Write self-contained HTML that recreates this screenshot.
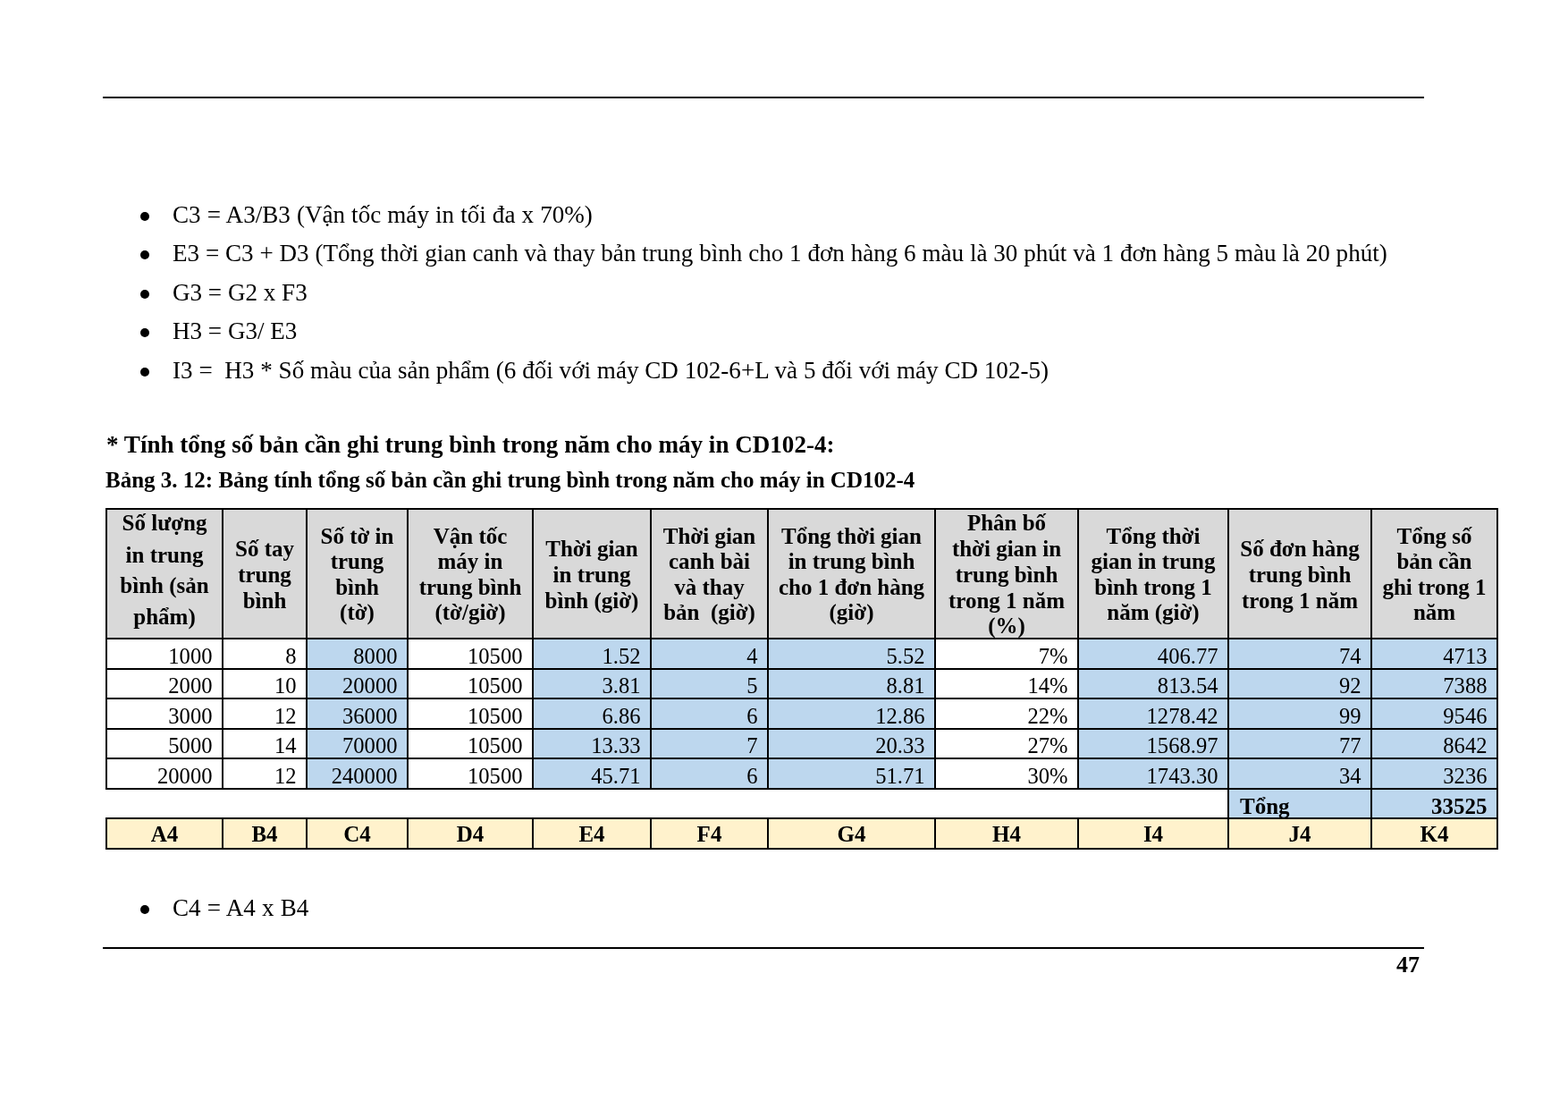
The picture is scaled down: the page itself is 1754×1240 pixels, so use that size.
<!DOCTYPE html>
<html lang="vi"><head><meta charset="utf-8"><title>Trang 47</title>
<style>
html,body{margin:0;padding:0;background:#fff}
body{width:1754px;height:1240px;position:relative;overflow:hidden;font-family:"Liberation Serif", "DejaVu Serif", serif;color:#000}
.t{position:absolute;white-space:nowrap;margin:0;padding:0}
.r{position:absolute}
.dot{position:absolute;width:10px;height:10px;border-radius:50%;background:#000}
</style></head><body>
<div class="r" style="left:115px;top:108px;width:1478px;height:2px;background:#000"></div>
<div class="r" style="left:115px;top:1059px;width:1478px;height:2px;background:#000"></div>
<div class="dot" style="left:157px;top:237px"></div>
<div class="t" style="top:223.86px;font-size:27.08px;line-height:32px;left:193px;word-spacing:0.33px;">C3 = A3/B3 (Vận tốc máy in tối đa x 70%)</div>
<div class="dot" style="left:157px;top:280px"></div>
<div class="t" style="top:266.86px;font-size:27.08px;line-height:32px;left:193px;word-spacing:0.05px;">E3 = C3 + D3 (Tổng thời gian canh và thay bản trung bình cho 1 đơn hàng 6 màu là 30 phút và 1 đơn hàng 5 màu là 20 phút)</div>
<div class="dot" style="left:157px;top:324px"></div>
<div class="t" style="top:310.86px;font-size:27.08px;line-height:32px;left:193px;">G3 = G2 x F3</div>
<div class="dot" style="left:157px;top:367px"></div>
<div class="t" style="top:353.86px;font-size:27.08px;line-height:32px;left:193px;">H3 = G3/ E3</div>
<div class="dot" style="left:157px;top:411px"></div>
<div class="t" style="top:397.86px;font-size:27.08px;line-height:32px;left:193px;word-spacing:0.06px;">I3 =&nbsp; H3 * Số màu của sản phẩm (6 đối với máy CD 102-6+L và 5 đối với máy CD 102-5)</div>
<div class="dot" style="left:157px;top:1012px"></div>
<div class="t" style="top:998.86px;font-size:27.08px;line-height:32px;left:193px;word-spacing:0.4px;">C4 = A4 x B4</div>
<div class="t" style="top:480.86px;font-size:27.08px;line-height:32px;font-weight:bold;left:119px;">* Tính tổng số bản cần ghi trung bình trong năm cho máy in CD102-4:</div>
<div class="t" style="top:521.56px;font-size:25px;line-height:30px;font-weight:bold;left:118px;">Bảng 3. 12: Bảng tính tổng số bản cần ghi trung bình trong năm cho máy in CD102-4</div>
<div class="t" style="top:1062.72px;font-size:26px;line-height:31px;font-weight:bold;left:1488px;width:100px;text-align:right;">47</div>
<div class="r" style="left:118px;top:568px;width:1558px;height:145px;background:#d9d9d9"></div>
<div class="r" style="left:342px;top:713px;width:113px;height:34px;background:#bdd7ee"></div>
<div class="r" style="left:595px;top:713px;width:132px;height:34px;background:#bdd7ee"></div>
<div class="r" style="left:727px;top:713px;width:131px;height:34px;background:#bdd7ee"></div>
<div class="r" style="left:858px;top:713px;width:187px;height:34px;background:#bdd7ee"></div>
<div class="r" style="left:1205px;top:713px;width:168px;height:34px;background:#bdd7ee"></div>
<div class="r" style="left:1373px;top:713px;width:160px;height:34px;background:#bdd7ee"></div>
<div class="r" style="left:1533px;top:713px;width:141px;height:34px;background:#bdd7ee"></div>
<div class="r" style="left:342px;top:747px;width:113px;height:33px;background:#bdd7ee"></div>
<div class="r" style="left:595px;top:747px;width:132px;height:33px;background:#bdd7ee"></div>
<div class="r" style="left:727px;top:747px;width:131px;height:33px;background:#bdd7ee"></div>
<div class="r" style="left:858px;top:747px;width:187px;height:33px;background:#bdd7ee"></div>
<div class="r" style="left:1205px;top:747px;width:168px;height:33px;background:#bdd7ee"></div>
<div class="r" style="left:1373px;top:747px;width:160px;height:33px;background:#bdd7ee"></div>
<div class="r" style="left:1533px;top:747px;width:141px;height:33px;background:#bdd7ee"></div>
<div class="r" style="left:342px;top:780px;width:113px;height:34px;background:#bdd7ee"></div>
<div class="r" style="left:595px;top:780px;width:132px;height:34px;background:#bdd7ee"></div>
<div class="r" style="left:727px;top:780px;width:131px;height:34px;background:#bdd7ee"></div>
<div class="r" style="left:858px;top:780px;width:187px;height:34px;background:#bdd7ee"></div>
<div class="r" style="left:1205px;top:780px;width:168px;height:34px;background:#bdd7ee"></div>
<div class="r" style="left:1373px;top:780px;width:160px;height:34px;background:#bdd7ee"></div>
<div class="r" style="left:1533px;top:780px;width:141px;height:34px;background:#bdd7ee"></div>
<div class="r" style="left:342px;top:814px;width:113px;height:33px;background:#bdd7ee"></div>
<div class="r" style="left:595px;top:814px;width:132px;height:33px;background:#bdd7ee"></div>
<div class="r" style="left:727px;top:814px;width:131px;height:33px;background:#bdd7ee"></div>
<div class="r" style="left:858px;top:814px;width:187px;height:33px;background:#bdd7ee"></div>
<div class="r" style="left:1205px;top:814px;width:168px;height:33px;background:#bdd7ee"></div>
<div class="r" style="left:1373px;top:814px;width:160px;height:33px;background:#bdd7ee"></div>
<div class="r" style="left:1533px;top:814px;width:141px;height:33px;background:#bdd7ee"></div>
<div class="r" style="left:342px;top:847px;width:113px;height:34px;background:#bdd7ee"></div>
<div class="r" style="left:595px;top:847px;width:132px;height:34px;background:#bdd7ee"></div>
<div class="r" style="left:727px;top:847px;width:131px;height:34px;background:#bdd7ee"></div>
<div class="r" style="left:858px;top:847px;width:187px;height:34px;background:#bdd7ee"></div>
<div class="r" style="left:1205px;top:847px;width:168px;height:34px;background:#bdd7ee"></div>
<div class="r" style="left:1373px;top:847px;width:160px;height:34px;background:#bdd7ee"></div>
<div class="r" style="left:1533px;top:847px;width:141px;height:34px;background:#bdd7ee"></div>
<div class="r" style="left:1373px;top:881px;width:301px;height:33px;background:#bdd7ee"></div>
<div class="r" style="left:118px;top:914px;width:1558px;height:34px;background:#fff2cc"></div>
<div class="r" style="left:118px;top:568px;width:1558px;height:2px;background:#000"></div>
<div class="r" style="left:118px;top:713px;width:1558px;height:2px;background:#000"></div>
<div class="r" style="left:118px;top:747px;width:1558px;height:2px;background:#000"></div>
<div class="r" style="left:118px;top:780px;width:1558px;height:2px;background:#000"></div>
<div class="r" style="left:118px;top:814px;width:1558px;height:2px;background:#000"></div>
<div class="r" style="left:118px;top:847px;width:1558px;height:2px;background:#000"></div>
<div class="r" style="left:118px;top:881px;width:1558px;height:2px;background:#000"></div>
<div class="r" style="left:118px;top:914px;width:1558px;height:2px;background:#000"></div>
<div class="r" style="left:118px;top:948px;width:1558px;height:2px;background:#000"></div>
<div class="r" style="left:118px;top:568px;width:2px;height:315px;background:#000"></div>
<div class="r" style="left:118px;top:914px;width:2px;height:36px;background:#000"></div>
<div class="r" style="left:248px;top:568px;width:2px;height:315px;background:#000"></div>
<div class="r" style="left:248px;top:914px;width:2px;height:36px;background:#000"></div>
<div class="r" style="left:342px;top:568px;width:2px;height:315px;background:#000"></div>
<div class="r" style="left:342px;top:914px;width:2px;height:36px;background:#000"></div>
<div class="r" style="left:455px;top:568px;width:2px;height:315px;background:#000"></div>
<div class="r" style="left:455px;top:914px;width:2px;height:36px;background:#000"></div>
<div class="r" style="left:595px;top:568px;width:2px;height:315px;background:#000"></div>
<div class="r" style="left:595px;top:914px;width:2px;height:36px;background:#000"></div>
<div class="r" style="left:727px;top:568px;width:2px;height:315px;background:#000"></div>
<div class="r" style="left:727px;top:914px;width:2px;height:36px;background:#000"></div>
<div class="r" style="left:858px;top:568px;width:2px;height:315px;background:#000"></div>
<div class="r" style="left:858px;top:914px;width:2px;height:36px;background:#000"></div>
<div class="r" style="left:1045px;top:568px;width:2px;height:315px;background:#000"></div>
<div class="r" style="left:1045px;top:914px;width:2px;height:36px;background:#000"></div>
<div class="r" style="left:1205px;top:568px;width:2px;height:315px;background:#000"></div>
<div class="r" style="left:1205px;top:914px;width:2px;height:36px;background:#000"></div>
<div class="r" style="left:1373px;top:568px;width:2px;height:315px;background:#000"></div>
<div class="r" style="left:1373px;top:914px;width:2px;height:36px;background:#000"></div>
<div class="r" style="left:1373px;top:881px;width:2px;height:35px;background:#000"></div>
<div class="r" style="left:1533px;top:568px;width:2px;height:315px;background:#000"></div>
<div class="r" style="left:1533px;top:914px;width:2px;height:36px;background:#000"></div>
<div class="r" style="left:1533px;top:881px;width:2px;height:35px;background:#000"></div>
<div class="r" style="left:1674px;top:568px;width:2px;height:315px;background:#000"></div>
<div class="r" style="left:1674px;top:914px;width:2px;height:36px;background:#000"></div>
<div class="r" style="left:1674px;top:881px;width:2px;height:35px;background:#000"></div>
<div class="t" style="top:569.56px;font-size:25px;line-height:30px;font-weight:bold;left:99.0px;width:170px;text-align:center;">Số lượng</div>
<div class="t" style="top:605.56px;font-size:25px;line-height:30px;font-weight:bold;left:99.0px;width:170px;text-align:center;">in trung</div>
<div class="t" style="top:639.56px;font-size:25px;line-height:30px;font-weight:bold;left:99.0px;width:170px;text-align:center;">bình (sản</div>
<div class="t" style="top:674.56px;font-size:25px;line-height:30px;font-weight:bold;left:99.0px;width:170px;text-align:center;">phẩm)</div>
<div class="t" style="top:598.56px;font-size:25px;line-height:30px;font-weight:bold;left:229.0px;width:134px;text-align:center;">Số tay</div>
<div class="t" style="top:627.56px;font-size:25px;line-height:30px;font-weight:bold;left:229.0px;width:134px;text-align:center;">trung</div>
<div class="t" style="top:656.56px;font-size:25px;line-height:30px;font-weight:bold;left:229.0px;width:134px;text-align:center;">bình</div>
<div class="t" style="top:584.56px;font-size:25px;line-height:30px;font-weight:bold;left:323.0px;width:153px;text-align:center;">Số tờ in</div>
<div class="t" style="top:612.56px;font-size:25px;line-height:30px;font-weight:bold;left:323.0px;width:153px;text-align:center;">trung</div>
<div class="t" style="top:641.56px;font-size:25px;line-height:30px;font-weight:bold;left:323.0px;width:153px;text-align:center;">bình</div>
<div class="t" style="top:669.56px;font-size:25px;line-height:30px;font-weight:bold;left:323.0px;width:153px;text-align:center;">(tờ)</div>
<div class="t" style="top:584.56px;font-size:25px;line-height:30px;font-weight:bold;left:436.0px;width:180px;text-align:center;">Vận tốc</div>
<div class="t" style="top:612.56px;font-size:25px;line-height:30px;font-weight:bold;left:436.0px;width:180px;text-align:center;">máy in</div>
<div class="t" style="top:641.56px;font-size:25px;line-height:30px;font-weight:bold;left:436.0px;width:180px;text-align:center;">trung bình</div>
<div class="t" style="top:669.56px;font-size:25px;line-height:30px;font-weight:bold;left:436.0px;width:180px;text-align:center;">(tờ/giờ)</div>
<div class="t" style="top:598.56px;font-size:25px;line-height:30px;font-weight:bold;left:576.0px;width:172px;text-align:center;">Thời gian</div>
<div class="t" style="top:627.56px;font-size:25px;line-height:30px;font-weight:bold;left:576.0px;width:172px;text-align:center;">in trung</div>
<div class="t" style="top:656.56px;font-size:25px;line-height:30px;font-weight:bold;left:576.0px;width:172px;text-align:center;">bình (giờ)</div>
<div class="t" style="top:584.56px;font-size:25px;line-height:30px;font-weight:bold;left:708.0px;width:171px;text-align:center;">Thời gian</div>
<div class="t" style="top:612.56px;font-size:25px;line-height:30px;font-weight:bold;left:708.0px;width:171px;text-align:center;">canh bài</div>
<div class="t" style="top:641.56px;font-size:25px;line-height:30px;font-weight:bold;left:708.0px;width:171px;text-align:center;">và thay</div>
<div class="t" style="top:669.56px;font-size:25px;line-height:30px;font-weight:bold;left:708.0px;width:171px;text-align:center;">bản&nbsp; (giờ)</div>
<div class="t" style="top:584.56px;font-size:25px;line-height:30px;font-weight:bold;left:839.0px;width:227px;text-align:center;">Tổng thời gian</div>
<div class="t" style="top:612.56px;font-size:25px;line-height:30px;font-weight:bold;left:839.0px;width:227px;text-align:center;">in trung bình</div>
<div class="t" style="top:641.56px;font-size:25px;line-height:30px;font-weight:bold;left:839.0px;width:227px;text-align:center;">cho 1 đơn hàng</div>
<div class="t" style="top:669.56px;font-size:25px;line-height:30px;font-weight:bold;left:839.0px;width:227px;text-align:center;">(giờ)</div>
<div class="t" style="top:569.56px;font-size:25px;line-height:30px;font-weight:bold;left:1026.0px;width:200px;text-align:center;">Phân bố</div>
<div class="t" style="top:598.56px;font-size:25px;line-height:30px;font-weight:bold;left:1026.0px;width:200px;text-align:center;">thời gian in</div>
<div class="t" style="top:627.56px;font-size:25px;line-height:30px;font-weight:bold;left:1026.0px;width:200px;text-align:center;">trung bình</div>
<div class="t" style="top:656.56px;font-size:25px;line-height:30px;font-weight:bold;left:1026.0px;width:200px;text-align:center;">trong 1 năm</div>
<div class="t" style="top:684.56px;font-size:25px;line-height:30px;font-weight:bold;left:1026.0px;width:200px;text-align:center;">(%)</div>
<div class="t" style="top:584.56px;font-size:25px;line-height:30px;font-weight:bold;left:1186.0px;width:208px;text-align:center;">Tổng thời</div>
<div class="t" style="top:612.56px;font-size:25px;line-height:30px;font-weight:bold;left:1186.0px;width:208px;text-align:center;">gian in trung</div>
<div class="t" style="top:641.56px;font-size:25px;line-height:30px;font-weight:bold;left:1186.0px;width:208px;text-align:center;">bình trong 1</div>
<div class="t" style="top:669.56px;font-size:25px;line-height:30px;font-weight:bold;left:1186.0px;width:208px;text-align:center;">năm (giờ)</div>
<div class="t" style="top:598.56px;font-size:25px;line-height:30px;font-weight:bold;left:1354.0px;width:200px;text-align:center;">Số đơn hàng</div>
<div class="t" style="top:627.56px;font-size:25px;line-height:30px;font-weight:bold;left:1354.0px;width:200px;text-align:center;">trung bình</div>
<div class="t" style="top:656.56px;font-size:25px;line-height:30px;font-weight:bold;left:1354.0px;width:200px;text-align:center;">trong 1 năm</div>
<div class="t" style="top:584.56px;font-size:25px;line-height:30px;font-weight:bold;left:1514.0px;width:181px;text-align:center;">Tổng số</div>
<div class="t" style="top:612.56px;font-size:25px;line-height:30px;font-weight:bold;left:1514.0px;width:181px;text-align:center;">bản cần</div>
<div class="t" style="top:641.56px;font-size:25px;line-height:30px;font-weight:bold;left:1514.0px;width:181px;text-align:center;">ghi trong 1</div>
<div class="t" style="top:669.56px;font-size:25px;line-height:30px;font-weight:bold;left:1514.0px;width:181px;text-align:center;">năm</div>
<div class="t" style="top:718.70px;font-size:24.6px;line-height:30px;left:117.5px;width:120px;text-align:right;">1000</div>
<div class="t" style="top:718.70px;font-size:24.6px;line-height:30px;left:211.5px;width:120px;text-align:right;">8</div>
<div class="t" style="top:718.70px;font-size:24.6px;line-height:30px;left:324.5px;width:120px;text-align:right;">8000</div>
<div class="t" style="top:718.70px;font-size:24.6px;line-height:30px;left:464.5px;width:120px;text-align:right;">10500</div>
<div class="t" style="top:718.70px;font-size:24.6px;line-height:30px;left:596.5px;width:120px;text-align:right;">1.52</div>
<div class="t" style="top:718.70px;font-size:24.6px;line-height:30px;left:727.5px;width:120px;text-align:right;">4</div>
<div class="t" style="top:718.70px;font-size:24.6px;line-height:30px;left:914.5px;width:120px;text-align:right;">5.52</div>
<div class="t" style="top:718.70px;font-size:24.6px;line-height:30px;left:1074.5px;width:120px;text-align:right;">7%</div>
<div class="t" style="top:718.70px;font-size:24.6px;line-height:30px;left:1242.5px;width:120px;text-align:right;">406.77</div>
<div class="t" style="top:718.70px;font-size:24.6px;line-height:30px;left:1402.5px;width:120px;text-align:right;">74</div>
<div class="t" style="top:718.70px;font-size:24.6px;line-height:30px;left:1543.5px;width:120px;text-align:right;">4713</div>
<div class="t" style="top:751.70px;font-size:24.6px;line-height:30px;left:117.5px;width:120px;text-align:right;">2000</div>
<div class="t" style="top:751.70px;font-size:24.6px;line-height:30px;left:211.5px;width:120px;text-align:right;">10</div>
<div class="t" style="top:751.70px;font-size:24.6px;line-height:30px;left:324.5px;width:120px;text-align:right;">20000</div>
<div class="t" style="top:751.70px;font-size:24.6px;line-height:30px;left:464.5px;width:120px;text-align:right;">10500</div>
<div class="t" style="top:751.70px;font-size:24.6px;line-height:30px;left:596.5px;width:120px;text-align:right;">3.81</div>
<div class="t" style="top:751.70px;font-size:24.6px;line-height:30px;left:727.5px;width:120px;text-align:right;">5</div>
<div class="t" style="top:751.70px;font-size:24.6px;line-height:30px;left:914.5px;width:120px;text-align:right;">8.81</div>
<div class="t" style="top:751.70px;font-size:24.6px;line-height:30px;left:1074.5px;width:120px;text-align:right;">14%</div>
<div class="t" style="top:751.70px;font-size:24.6px;line-height:30px;left:1242.5px;width:120px;text-align:right;">813.54</div>
<div class="t" style="top:751.70px;font-size:24.6px;line-height:30px;left:1402.5px;width:120px;text-align:right;">92</div>
<div class="t" style="top:751.70px;font-size:24.6px;line-height:30px;left:1543.5px;width:120px;text-align:right;">7388</div>
<div class="t" style="top:785.70px;font-size:24.6px;line-height:30px;left:117.5px;width:120px;text-align:right;">3000</div>
<div class="t" style="top:785.70px;font-size:24.6px;line-height:30px;left:211.5px;width:120px;text-align:right;">12</div>
<div class="t" style="top:785.70px;font-size:24.6px;line-height:30px;left:324.5px;width:120px;text-align:right;">36000</div>
<div class="t" style="top:785.70px;font-size:24.6px;line-height:30px;left:464.5px;width:120px;text-align:right;">10500</div>
<div class="t" style="top:785.70px;font-size:24.6px;line-height:30px;left:596.5px;width:120px;text-align:right;">6.86</div>
<div class="t" style="top:785.70px;font-size:24.6px;line-height:30px;left:727.5px;width:120px;text-align:right;">6</div>
<div class="t" style="top:785.70px;font-size:24.6px;line-height:30px;left:914.5px;width:120px;text-align:right;">12.86</div>
<div class="t" style="top:785.70px;font-size:24.6px;line-height:30px;left:1074.5px;width:120px;text-align:right;">22%</div>
<div class="t" style="top:785.70px;font-size:24.6px;line-height:30px;left:1242.5px;width:120px;text-align:right;">1278.42</div>
<div class="t" style="top:785.70px;font-size:24.6px;line-height:30px;left:1402.5px;width:120px;text-align:right;">99</div>
<div class="t" style="top:785.70px;font-size:24.6px;line-height:30px;left:1543.5px;width:120px;text-align:right;">9546</div>
<div class="t" style="top:818.70px;font-size:24.6px;line-height:30px;left:117.5px;width:120px;text-align:right;">5000</div>
<div class="t" style="top:818.70px;font-size:24.6px;line-height:30px;left:211.5px;width:120px;text-align:right;">14</div>
<div class="t" style="top:818.70px;font-size:24.6px;line-height:30px;left:324.5px;width:120px;text-align:right;">70000</div>
<div class="t" style="top:818.70px;font-size:24.6px;line-height:30px;left:464.5px;width:120px;text-align:right;">10500</div>
<div class="t" style="top:818.70px;font-size:24.6px;line-height:30px;left:596.5px;width:120px;text-align:right;">13.33</div>
<div class="t" style="top:818.70px;font-size:24.6px;line-height:30px;left:727.5px;width:120px;text-align:right;">7</div>
<div class="t" style="top:818.70px;font-size:24.6px;line-height:30px;left:914.5px;width:120px;text-align:right;">20.33</div>
<div class="t" style="top:818.70px;font-size:24.6px;line-height:30px;left:1074.5px;width:120px;text-align:right;">27%</div>
<div class="t" style="top:818.70px;font-size:24.6px;line-height:30px;left:1242.5px;width:120px;text-align:right;">1568.97</div>
<div class="t" style="top:818.70px;font-size:24.6px;line-height:30px;left:1402.5px;width:120px;text-align:right;">77</div>
<div class="t" style="top:818.70px;font-size:24.6px;line-height:30px;left:1543.5px;width:120px;text-align:right;">8642</div>
<div class="t" style="top:852.70px;font-size:24.6px;line-height:30px;left:117.5px;width:120px;text-align:right;">20000</div>
<div class="t" style="top:852.70px;font-size:24.6px;line-height:30px;left:211.5px;width:120px;text-align:right;">12</div>
<div class="t" style="top:852.70px;font-size:24.6px;line-height:30px;left:324.5px;width:120px;text-align:right;">240000</div>
<div class="t" style="top:852.70px;font-size:24.6px;line-height:30px;left:464.5px;width:120px;text-align:right;">10500</div>
<div class="t" style="top:852.70px;font-size:24.6px;line-height:30px;left:596.5px;width:120px;text-align:right;">45.71</div>
<div class="t" style="top:852.70px;font-size:24.6px;line-height:30px;left:727.5px;width:120px;text-align:right;">6</div>
<div class="t" style="top:852.70px;font-size:24.6px;line-height:30px;left:914.5px;width:120px;text-align:right;">51.71</div>
<div class="t" style="top:852.70px;font-size:24.6px;line-height:30px;left:1074.5px;width:120px;text-align:right;">30%</div>
<div class="t" style="top:852.70px;font-size:24.6px;line-height:30px;left:1242.5px;width:120px;text-align:right;">1743.30</div>
<div class="t" style="top:852.70px;font-size:24.6px;line-height:30px;left:1402.5px;width:120px;text-align:right;">34</div>
<div class="t" style="top:852.70px;font-size:24.6px;line-height:30px;left:1543.5px;width:120px;text-align:right;">3236</div>
<div class="t" style="top:886.56px;font-size:25px;line-height:30px;font-weight:bold;left:1387px;">Tổng</div>
<div class="t" style="top:886.56px;font-size:25px;line-height:30px;font-weight:bold;left:1543.5px;width:120px;text-align:right;">33525</div>
<div class="t" style="top:917.56px;font-size:25px;line-height:30px;font-weight:bold;left:144.0px;width:80px;text-align:center;">A4</div>
<div class="t" style="top:917.56px;font-size:25px;line-height:30px;font-weight:bold;left:256.0px;width:80px;text-align:center;">B4</div>
<div class="t" style="top:917.56px;font-size:25px;line-height:30px;font-weight:bold;left:359.5px;width:80px;text-align:center;">C4</div>
<div class="t" style="top:917.56px;font-size:25px;line-height:30px;font-weight:bold;left:486.0px;width:80px;text-align:center;">D4</div>
<div class="t" style="top:917.56px;font-size:25px;line-height:30px;font-weight:bold;left:622.0px;width:80px;text-align:center;">E4</div>
<div class="t" style="top:917.56px;font-size:25px;line-height:30px;font-weight:bold;left:753.5px;width:80px;text-align:center;">F4</div>
<div class="t" style="top:917.56px;font-size:25px;line-height:30px;font-weight:bold;left:912.5px;width:80px;text-align:center;">G4</div>
<div class="t" style="top:917.56px;font-size:25px;line-height:30px;font-weight:bold;left:1086.0px;width:80px;text-align:center;">H4</div>
<div class="t" style="top:917.56px;font-size:25px;line-height:30px;font-weight:bold;left:1250.0px;width:80px;text-align:center;">I4</div>
<div class="t" style="top:917.56px;font-size:25px;line-height:30px;font-weight:bold;left:1414.0px;width:80px;text-align:center;">J4</div>
<div class="t" style="top:917.56px;font-size:25px;line-height:30px;font-weight:bold;left:1564.5px;width:80px;text-align:center;">K4</div>
</body></html>
